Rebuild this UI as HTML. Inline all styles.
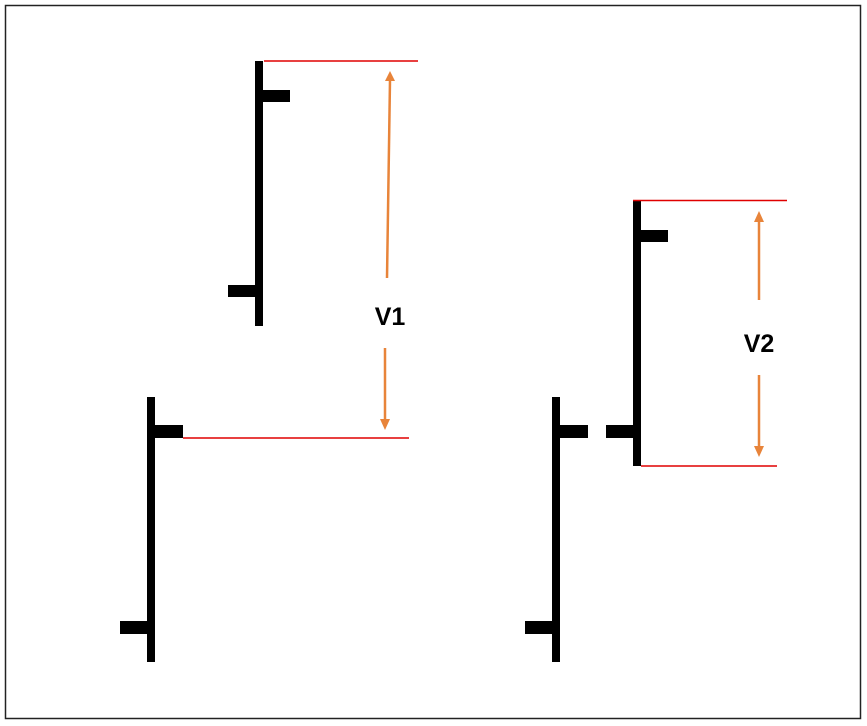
<!DOCTYPE html>
<html><head><style>body{margin:0;background:#fff}svg{display:block}</style></head><body>
<svg width="867" height="726" viewBox="0 0 867 726" xmlns="http://www.w3.org/2000/svg">
<rect x="0" y="0" width="867" height="726" fill="#fff"/>
<rect x="5.5" y="5.5" width="855" height="713" fill="none" stroke="#222" stroke-width="1.5"/>
<g fill="#000">
<rect x="255" y="61" width="8" height="265"/><rect x="263" y="90" width="27" height="12"/><rect x="228" y="285" width="27" height="12"/>
<rect x="147" y="397" width="8" height="265"/><rect x="155" y="425" width="28" height="13"/><rect x="120" y="621" width="27" height="13"/>
<rect x="552" y="397" width="8" height="265"/><rect x="560" y="425" width="28" height="13"/><rect x="525" y="621" width="27" height="13"/>
<rect x="633" y="200" width="8" height="266"/><rect x="641" y="230" width="27" height="12"/><rect x="606" y="425" width="27" height="13"/>
</g>
<g stroke="#e00000" stroke-width="1.5">
<line x1="264" y1="61" x2="418" y2="61"/><line x1="183" y1="438" x2="409" y2="438"/>
<line x1="633" y1="200.5" x2="787" y2="200.5"/><line x1="641" y1="466" x2="777" y2="466"/>
</g>
<g stroke="#e8843a" stroke-width="2.5" fill="#e8843a">
<line x1="387" y1="278" x2="390" y2="80"/><polygon points="385,81 395,81 390,71" stroke="none"/>
<line x1="385" y1="348" x2="385" y2="420"/><polygon points="380,419 390,419 385,430" stroke="none"/>
<line x1="759" y1="300" x2="759" y2="220"/><polygon points="754,222 764,222 759,211" stroke="none"/>
<line x1="759" y1="375" x2="759" y2="448"/><polygon points="754,446 764,446 759,457" stroke="none"/>
</g>
<g font-family="Liberation Sans, sans-serif" font-weight="bold" font-size="25" fill="#000" text-anchor="middle">
<text x="390" y="325">V1</text><text x="759" y="352">V2</text>
</g>
</svg>
</body></html>
